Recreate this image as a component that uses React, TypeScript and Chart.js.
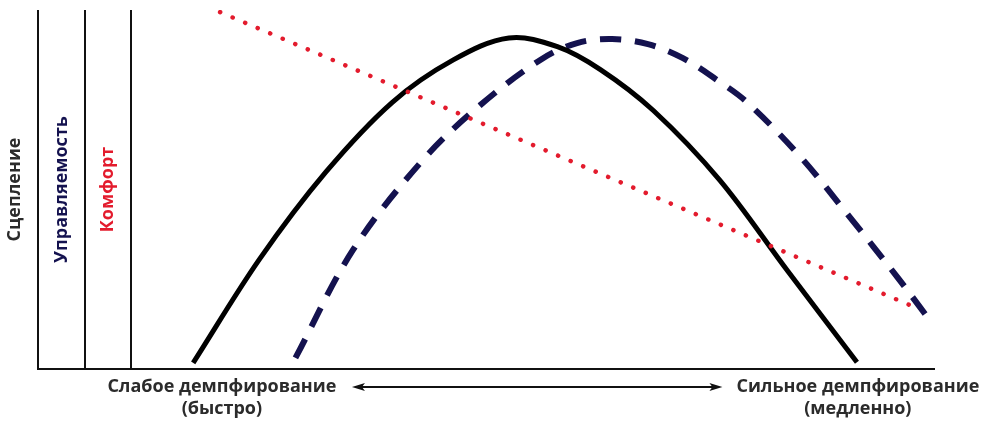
import React, { useEffect, useRef } from "react";
import { Chart, registerables } from "chart.js";

Chart.register(...registerables);

// Grip (Сцепление) curve
const gripX = [17.3, 24.7, 32.1, 39.5, 46.3, 52.5, 57.9, 62.7, 68.6, 76.0, 83.6, 91.3];
const gripY = [1.7, 30.6, 54.9, 74.3, 86.1, 92.2, 89.8, 83.4, 72.0, 52.6, 27.2, 1.9];

// Handling (Управляемость) curve
const handlingX = [28.7, 35.1, 42.9, 49.3, 56.0, 60.1, 64.0, 68.0, 71.9, 75.7, 79.0, 85.0, 90.5, 95.8, 98.9];
const handlingY = [3.1, 33.1, 58.2, 73.5, 86.1, 90.8, 91.9, 90.5, 86.6, 80.5, 74.4, 59.1, 42.3, 25.6, 15.3];

// Comfort (Комфорт) line
const comfortX = [20.3, 97.2];
const comfortY = [99.4, 17.8];

// Axis labels (vertical axes) and their axis positions
const axisTitles = ["Сцепление", "Управляемость", "Комфорт"];
const axisPositions = [0, 5.24, 10.37];

// Bottom labels
const bottomLabels = [
  ["Слабое демпфирование", "(быстро)"],
  ["Сильное демпфирование", "(медленно)"],
];
const bottomLabelX = [20.5, 91.4];
const arrowRange = [35.0, 76.3];

const BLACK = "#000000";
const NAVY = "#14124f";
const RED = "#e31b2d";
const TEXT = "#2b2b2b";
const titleColors = [TEXT, NAVY, RED];

const FONT = '"Open Sans", "DejaVu Sans", sans-serif';

const toPts = (xs: number[], ys: number[]) => xs.map((x, i) => ({ x, y: ys[i] }));

const decorPlugin = {
  id: "decor",
  beforeDatasetsDraw(chart: any) {
    const { ctx, chartArea, scales } = chart;
    const xs = scales.x;
    ctx.save();
    ctx.strokeStyle = "#111";
    ctx.lineWidth = 2;
    ctx.lineCap = "butt";
    // vertical axes
    axisPositions.forEach((v) => {
      const px = Math.round(xs.getPixelForValue(v));
      ctx.beginPath();
      ctx.moveTo(px, chartArea.top);
      ctx.lineTo(px, chartArea.bottom + 1);
      ctx.stroke();
    });
    // horizontal axis
    ctx.beginPath();
    ctx.moveTo(xs.getPixelForValue(axisPositions[0]) - 1, chartArea.bottom);
    ctx.lineTo(chartArea.right, chartArea.bottom);
    ctx.stroke();

    // rotated titles
    ctx.font = `bold 18px ${FONT}`;
    ctx.textAlign = "center";
    ctx.textBaseline = "middle";
    const midY = (chartArea.top + chartArea.bottom) / 2;
    axisTitles.forEach((t, i) => {
      const px = xs.getPixelForValue(axisPositions[i]) - 23;
      ctx.save();
      ctx.translate(px, midY);
      ctx.rotate(-Math.PI / 2);
      ctx.fillStyle = titleColors[i];
      ctx.fillText(t, 0, 0);
      ctx.restore();
    });

    // bottom labels
    ctx.fillStyle = TEXT;
    ctx.font = `bold 18px ${FONT}`;
    bottomLabels.forEach((lines, i) => {
      const px = xs.getPixelForValue(bottomLabelX[i]);
      lines.forEach((l, j) => {
        ctx.fillText(l, px, chartArea.bottom + 18 + j * 22);
      });
    });

    // double arrow
    const ay = chartArea.bottom + 18;
    const x1 = xs.getPixelForValue(arrowRange[0]);
    const x2 = xs.getPixelForValue(arrowRange[1]);
    ctx.strokeStyle = "#111";
    ctx.fillStyle = "#111";
    ctx.lineWidth = 2;
    ctx.beginPath();
    ctx.moveTo(x1 + 6, ay);
    ctx.lineTo(x2 - 6, ay);
    ctx.stroke();
    const head = (tip: number, dir: number) => {
      ctx.beginPath();
      ctx.moveTo(tip, ay);
      ctx.lineTo(tip + dir * 13, ay - 4);
      ctx.lineTo(tip + dir * 10, ay);
      ctx.lineTo(tip + dir * 13, ay + 4);
      ctx.closePath();
      ctx.fill();
    };
    head(x1, 1);
    head(x2, -1);
    ctx.restore();
  },
};

export default function App() {
  const ref = useRef<HTMLCanvasElement | null>(null);
  useEffect(() => {
    document.body.style.margin = "0";
    const canvas = ref.current!;
    const chart = new Chart(canvas, {
      type: "line",
      data: {
        datasets: [
          {
            label: "Комфорт",
            data: toPts(comfortX, comfortY),
            borderColor: RED,
            borderWidth: 4.5,
            borderDash: [0.1, 13.5],
            borderCapStyle: "round",
            pointRadius: 0,
            tension: 0,
          },
          {
            label: "Сцепление",
            data: toPts(gripX, gripY),
            borderColor: BLACK,
            borderWidth: 5,
            pointRadius: 0,
            tension: 0.35,
          },
          {
            label: "Управляемость",
            data: toPts(handlingX, handlingY),
            borderColor: NAVY,
            borderWidth: 6,
            borderDash: [21, 14],
            pointRadius: 0,
            tension: 0.35,
          },
        ],
      },
      options: {
        responsive: false,
        animation: false,
        layout: { padding: { left: 38, right: 51, top: 10, bottom: 52 } },
        plugins: { legend: { display: false }, tooltip: { enabled: false } },
        scales: {
          x: { type: "linear", min: 0, max: 100, display: false },
          y: { type: "linear", min: 0, max: 100, display: false },
        },
      },
      plugins: [decorPlugin],
    } as any);
    return () => chart.destroy();
  }, []);
  return (
    <div style={{ width: 986, height: 421, background: "#fff" }}>
      <canvas ref={ref} width={986} height={421} style={{ display: "block" }} />
    </div>
  );
}
